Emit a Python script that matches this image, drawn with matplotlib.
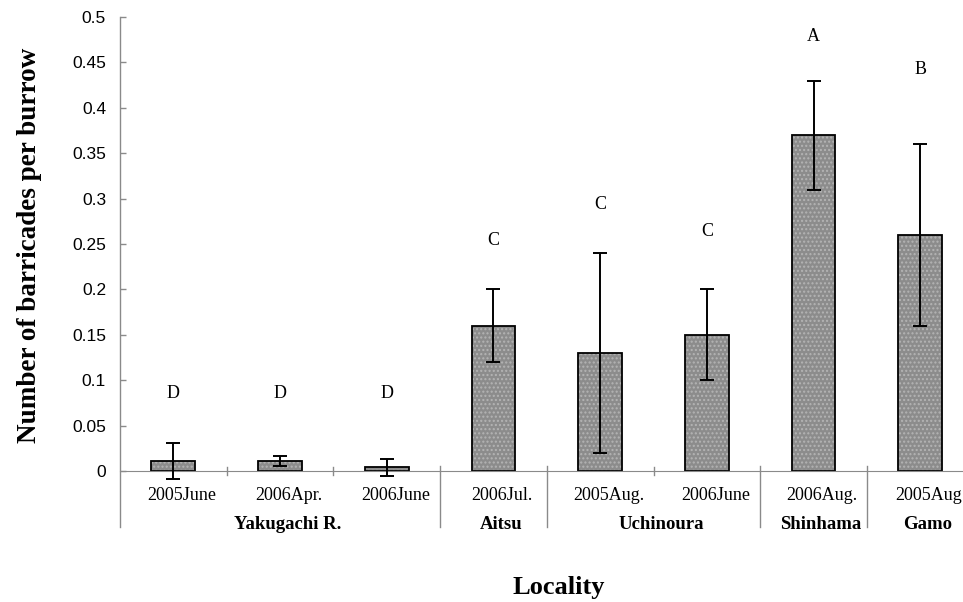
import matplotlib.pyplot as plt
import numpy as np

# data
dates = ['2005June', '2006Apr.', '2006June', '2006Jul.', '2005Aug.', '2006June', '2006Aug.', '2005Aug']
means = [0.011, 0.011, 0.004, 0.16, 0.13, 0.15, 0.37, 0.26]
errors = [0.020, 0.0055, 0.0095, 0.04, 0.11, 0.05, 0.06, 0.10]
letters = ['D', 'D', 'D', 'C', 'C', 'C', 'A', 'B']
letter_y = [0.085, 0.085, 0.085, 0.254, 0.293, 0.264, 0.479, 0.442]
groups = ['Yakugachi R.', 'Aitsu', 'Uchinoura', 'Shinhama', 'Gamo']
group_sizes = [3, 1, 2, 1, 1]

serif = 'Liberation Serif'
sans = 'Liberation Sans'
axis_grey = '#8a8a8a'

fig = plt.figure(figsize=(9.63, 6.02), dpi=100)
ax = fig.add_axes([0.1246, 0.2176, 0.8754, 0.7542])

x = np.arange(len(means))
# dotted grey fill, then black outline on top
ax.bar(x, means, width=0.41, color='#8c8c8c', edgecolor='#b4b4b4', linewidth=0,
       hatch='....', zorder=2)
ax.bar(x, means, width=0.41, color='none', edgecolor='black', linewidth=1.3, zorder=2.5)
eb = ax.errorbar(x, means, yerr=errors, fmt='none', ecolor='black', elinewidth=1.4,
                 capsize=5, capthick=1.4, zorder=3)
for part in eb.get_children():
    part.set_clip_on(False)

for xi, lab, ly in zip(x, letters, letter_y):
    ax.text(xi, ly, lab, ha='center', va='center', family=serif, fontsize=13)

ax.set_xlim(-0.5, 7.4)
ax.set_ylim(0, 0.5)
ax.set_yticks(np.arange(0, 0.51, 0.05))
ax.set_yticklabels(['0', '0.05', '0.1', '0.15', '0.2', '0.25', '0.3', '0.35', '0.4', '0.45', '0.5'],
                   family=sans, fontsize=12.5)
ax.tick_params(axis='y', direction='in', length=4, color=axis_grey, width=1, pad=10)
ax.set_xticks([])
for s in ['top', 'right', 'left']:
    ax.spines[s].set_visible(False)
ax.spines['bottom'].set_color(axis_grey)

# category labels (sit slightly right of the bars, as in the original)
tr = ax.get_xaxis_transform()
for xi, d in zip(x, dates):
    ax.text(xi + 0.08, -0.055, d, transform=tr, ha='center', va='center', family=serif, fontsize=13)

# group separators and labels
start = 0
bounds = [-0.5]
for g, n in zip(groups, group_sizes):
    mid = start + (n - 1) / 2
    ax.text(mid + 0.07, -0.118, g, transform=tr, ha='center', va='center', family=serif,
            fontsize=13.5, fontweight='bold')
    # short ticks inside a group
    for k in range(1, n):
        ax.plot([start + k - 0.5] * 2, [0.008, -0.008], transform=tr, color=axis_grey,
                lw=1, clip_on=False)
    start += n
    bounds.append(start - 0.5)

for b in bounds[:-1]:
    ax.plot([b, b], [1.0 if b == -0.5 else 0.01, -0.123], transform=tr, color=axis_grey,
            lw=1, clip_on=False)

fig.text(0.031, 0.593, 'Number of barricades per burrow', rotation=90, ha='center',
         va='center', family=serif, fontsize=19.5, fontweight='bold')
fig.text(0.5805, 0.013, 'Locality', ha='center', va='baseline', family=serif,
         fontsize=19, fontweight='bold')

fig.savefig('out.png', dpi=100)
